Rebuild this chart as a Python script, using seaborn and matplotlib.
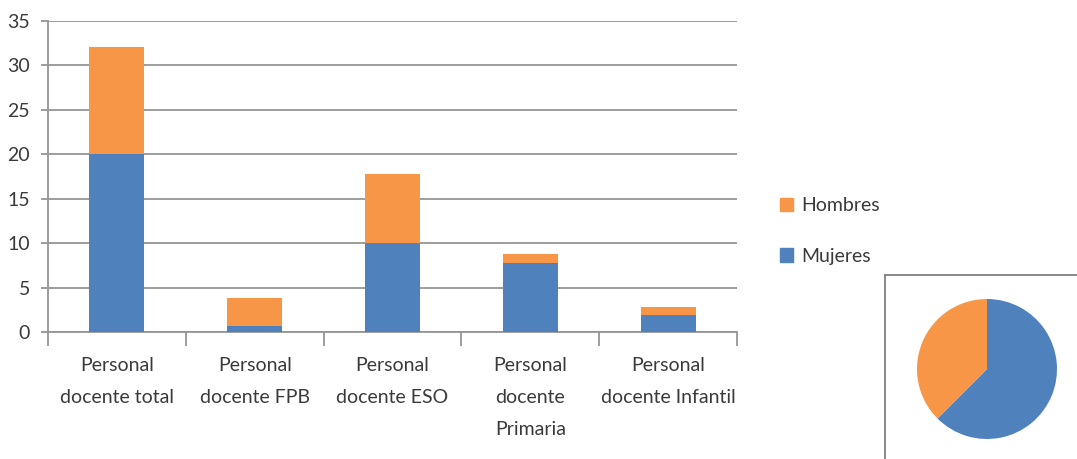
import numpy as np
import pandas as pd
import matplotlib
matplotlib.use("Agg")
import matplotlib.pyplot as plt
from matplotlib.patches import Patch
import seaborn as sns

# data
categories = ["Personal\ndocente total", "Personal\ndocente FPB", "Personal\ndocente ESO",
              "Personal\ndocente\nPrimaria", "Personal\ndocente Infantil"]
mujeres = [20, 0.75, 10, 7.8, 1.9]
hombres = [12, 3.15, 7.8, 1.05, 0.9]
pie_values = [20, 12]  # Mujeres, Hombres (personal docente total)

BLUE = "#4F81BD"
ORANGE = "#F79646"
GRID = "#959595"
TEXT = "#3a3a3a"

sns.set_theme(style="white")
plt.rcParams["font.family"] = ["Lato", "DejaVu Sans"]

df = pd.DataFrame({"cat": categories, "Mujeres": mujeres, "Hombres": hombres})
df["total"] = df["Mujeres"] + df["Hombres"]

fig = plt.figure(figsize=(10.77, 4.59), dpi=100)
ax = fig.add_axes([48 / 1077, 1 - 332.3 / 459, (737 - 48) / 1077, (332.3 - 20.7) / 459])

sns.barplot(data=df, x="cat", y="total", color=ORANGE, saturation=1, width=0.4,
            linewidth=0, ax=ax, zorder=3)
sns.barplot(data=df, x="cat", y="Mujeres", color=BLUE, saturation=1, width=0.4,
            linewidth=0, ax=ax, zorder=4)

ax.set_ylim(0, 35)
ax.set_xlim(-0.5, 4.5)
ax.set_yticks(np.arange(0, 36, 5))
ax.set_xlabel("")
ax.set_ylabel("")
ax.grid(True, axis="y", color=GRID, linewidth=1.3, zorder=0)
ax.set_axisbelow(True)
for side in ["top", "right"]:
    ax.spines[side].set_visible(False)
for side in ["left", "bottom"]:
    ax.spines[side].set_color(GRID)
    ax.spines[side].set_linewidth(1.3)

ax.tick_params(axis="y", left=True, length=5, width=1.3, color=GRID, pad=8,
               labelsize=14, labelcolor=TEXT)
ax.set_xticks(range(len(categories)))
ax.set_xticklabels(categories, fontsize=14, color=TEXT, linespacing=2.05, va="top")
ax.tick_params(axis="x", bottom=False, length=0, pad=18)
ax.set_xticks(np.arange(-0.5, 5, 1), minor=True)
ax.tick_params(axis="x", which="minor", bottom=True, length=10, width=1.3, color=GRID)

handles = [Patch(color=ORANGE, label="Hombres"), Patch(color=BLUE, label="Mujeres")]
fig.legend(handles=handles, loc="center left", bbox_to_anchor=(762 / 1077, 1 - 231 / 459),
           frameon=False, fontsize=14, handlelength=0.7, handleheight=0.7,
           handletextpad=0.4, labelspacing=1.7, labelcolor=TEXT)

# small pie in a box at bottom right
box = fig.add_axes([885 / 1077, 0, 1 - 885 / 1077, 1 - 275 / 459])
box.set_xticks([])
box.set_yticks([])
box.set_facecolor("white")
for side in ["right", "bottom"]:
    box.spines[side].set_visible(False)
for side in ["left", "top"]:
    box.spines[side].set_visible(True)
    box.spines[side].set_color("#7f7f7f")
    box.spines[side].set_linewidth(1.3)

pax = fig.add_axes([917 / 1077, 20 / 459, 140 / 1077, 140 / 459])
pax.pie(pie_values, colors=[BLUE, ORANGE], startangle=90, counterclock=False,
        wedgeprops={"linewidth": 0})
pax.set_xlim(-1, 1)
pax.set_ylim(-1, 1)
pax.set_aspect("equal")

fig.savefig("out.png", dpi=100)
